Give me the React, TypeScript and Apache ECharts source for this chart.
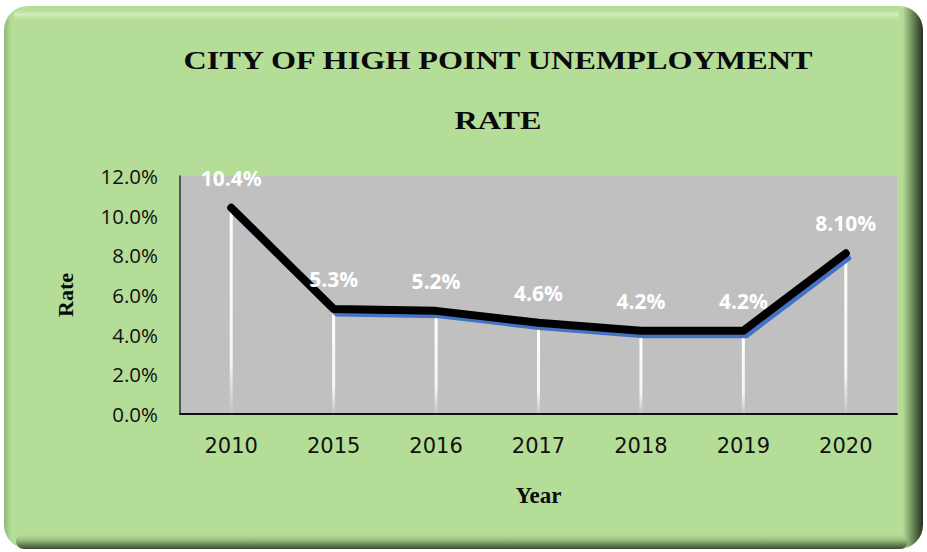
import React, { useEffect, useRef } from "react";
import * as echarts from "echarts";

const years = ["2010", "2015", "2016", "2017", "2018", "2019", "2020"];
const rates = [10.4, 5.3, 5.2, 4.6, 4.2, 4.2, 8.1];
const rateLabels = ["10.4%", "5.3%", "5.2%", "4.6%", "4.2%", "4.2%", "8.10%"];
const yMin = 0;
const yMax = 12;
const yInterval = 2;
const titleText = "CITY OF HIGH POINT UNEMPLOYMENT\nRATE";
const watermark = "NORTH CAROLINA";
const xName = "Year";
const yName = "Rate";

export default function App() {
  const ref = useRef<HTMLDivElement>(null);
  useEffect(() => {
    if (!ref.current) return;
    const chart = echarts.init(ref.current, null, { renderer: "svg" });
    const green = "#b4dd98";
    const option: any = {
      animation: false,
      backgroundColor: "#ffffff",
      graphic: [
        {
          type: "text",
          z: -30,
          x: 600,
          y: 0,
          style: {
            text: watermark,
            font: '30px "Liberation Serif"',
            fill: "#ffffff",
            stroke: "#b8b8b8",
            lineWidth: 1,
            verticalAlign: "top",
          },
        },
        {
          type: "rect",
          z: -20,
          shape: { x: 4, y: 6, width: 919, height: 543, r: 24 },
          style: {
            fill: new echarts.graphic.LinearGradient(0, 0, 1, 0, [
              { offset: 0, color: "#8fb878" },
              { offset: 0.008, color: green },
              { offset: 0.978, color: green },
              { offset: 0.988, color: "#6f8f5c" },
              { offset: 1, color: "#26301f" },
            ]),
          },
        },
        {
          type: "rect",
          z: -19,
          shape: { x: 14, y: 8, width: 885, height: 14, r: 8 },
          style: {
            fill: new echarts.graphic.LinearGradient(0, 0, 0, 1, [
              { offset: 0, color: "rgba(180,221,152,0)" },
              { offset: 0.45, color: "#d2f0bf" },
              { offset: 1, color: "rgba(180,221,152,0)" },
            ]),
          },
        },
        {
          type: "rect",
          z: -19,
          shape: { x: 16, y: 533, width: 892, height: 16, r: 8 },
          style: {
            fill: new echarts.graphic.LinearGradient(0, 0, 0, 1, [
              { offset: 0, color: "rgba(180,221,152,0)" },
              { offset: 0.5, color: "#8fb274" },
              { offset: 1, color: "#3c4d32" },
            ]),
          },
        },
        {
          type: "text",
          z: 100,
          x: 498,
          y: 90,
          scaleX: 1.24,
          style: {
            text: titleText,
            font: 'bold 26px "Liberation Serif"',
            fill: "#0a0a0a",
            align: "center",
            verticalAlign: "middle",
            lineHeight: 60,
          },
        },
      ],
      grid: [
        {
          left: 180,
          right: 30,
          top: 176,
          bottom: 138,
          show: true,
          backgroundColor: "#c0c0c0",
          borderWidth: 0,
        },
        {
          left: 183,
          right: 27,
          top: 181,
          bottom: 133,
          show: false,
        },
      ],
      xAxis: [
        {
          type: "category",
          gridIndex: 0,
          data: years,
          boundaryGap: true,
          axisLine: { show: true, lineStyle: { color: "#111", width: 2 } },
          axisTick: { show: false },
          axisLabel: {
            color: "#111",
            fontFamily: "DejaVu Sans",
            fontSize: 21,
            margin: 21,
          },
          name: xName,
          nameLocation: "middle",
          nameGap: 70,
          nameTextStyle: {
            fontFamily: "Liberation Serif",
            fontWeight: "bold",
            fontSize: 23,
            color: "#0a0a0a",
          },
          splitLine: { show: false },
        },
        {
          type: "category",
          gridIndex: 1,
          data: years,
          boundaryGap: true,
          show: false,
        },
      ],
      yAxis: [
        {
          type: "value",
          gridIndex: 0,
          min: yMin,
          max: yMax,
          interval: yInterval,
          axisLine: { show: true, lineStyle: { color: "#333", width: 1.5 } },
          axisTick: { show: false },
          splitLine: { show: false },
          axisLabel: {
            color: "#111",
            fontFamily: "Open Sans",
            fontSize: 20.5,
            margin: 22,
            formatter: (v: number) => v.toFixed(1) + "%",
          },
          name: yName,
          nameLocation: "middle",
          nameRotate: 90,
          nameGap: 104,
          nameTextStyle: {
            fontFamily: "Liberation Serif",
            fontWeight: "bold",
            fontSize: 22,
            color: "#0a0a0a",
          },
        },
        {
          type: "value",
          gridIndex: 1,
          min: yMin,
          max: yMax,
          interval: yInterval,
          show: false,
        },
      ],
      series: [
        {
          type: "bar",
          xAxisIndex: 0,
          yAxisIndex: 0,
          data: rates,
          barWidth: 3,
          z: 1,
          itemStyle: {
            color: new echarts.graphic.LinearGradient(0, 0, 0, 1, [
              { offset: 0, color: "#ffffff" },
              { offset: 0.75, color: "rgba(255,255,255,0.85)" },
              { offset: 1, color: "rgba(255,255,255,0.05)" },
            ]),
          },
        },
        {
          type: "line",
          xAxisIndex: 1,
          yAxisIndex: 1,
          data: rates,
          z: 2,
          showSymbol: false,
          lineStyle: { color: "#4472c4", width: 5, cap: "round", join: "round" },
        },
        {
          type: "line",
          xAxisIndex: 0,
          yAxisIndex: 0,
          data: rates,
          z: 3,
          symbol: "circle",
          symbolSize: 3,
          showSymbol: true,
          itemStyle: { color: "#000000" },
          lineStyle: { color: "#000000", width: 8, cap: "round", join: "round" },
          label: {
            show: true,
            position: "top",
            distance: 18,
            color: "#ffffff",
            fontFamily: "Open Sans",
            fontWeight: "bold",
            fontSize: 21,
            formatter: (p: any) => rateLabels[p.dataIndex],
          },
        },
      ],
    };
    chart.setOption(option);
    return () => chart.dispose();
  }, []);
  return (
    <div
      ref={ref}
      style={{ position: "fixed", left: 0, top: 0, width: 927, height: 552 }}
    />
  );
}
